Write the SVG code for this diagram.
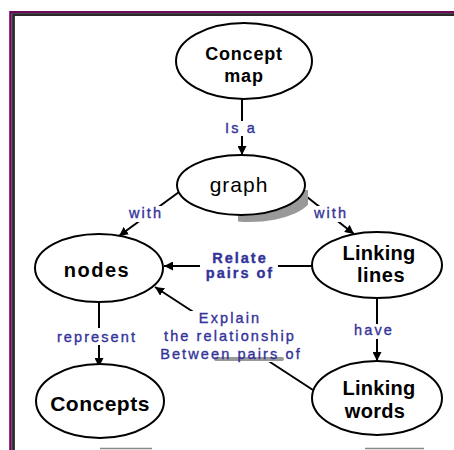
<svg xmlns="http://www.w3.org/2000/svg" width="454" height="450" viewBox="0 0 454 450">
<style>
.node{fill:#fff;stroke:#000;stroke-width:2}
.nt{font-family:"Liberation Sans",Arial,sans-serif;font-weight:bold;fill:#000;text-anchor:middle}
.conn{stroke:#000;stroke-width:2;fill:none;marker-end:url(#ah)}
.lb{fill:#fff}
.lt{font-family:"Liberation Sans",Arial,sans-serif;font-size:14.5px;fill:#333399;stroke:#333399;stroke-width:0.35px;text-anchor:middle;letter-spacing:2.1px}
</style>
<defs>
<marker id="ah" markerUnits="userSpaceOnUse" markerWidth="9" markerHeight="9" refX="9" refY="4.5" orient="auto">
<path d="M0,0 L9,4.5 L0,9 z" fill="#000"/>
</marker>
<clipPath id="shclip"><rect x="238" y="190" width="70" height="32.5"/></clipPath>
</defs>
<rect width="454" height="450" fill="#fff"/>
<g id="frame">
<path d="M10.5 450 V12.2 H454" fill="none" stroke="#6b0a5a" stroke-width="2.6"/>
<path d="M13.5 450 V14.7 H454" fill="none" stroke="#2a2a2a" stroke-width="2.8"/>
<line x1="100" y1="448.5" x2="152" y2="448.5" stroke="#888" stroke-width="1.5"/>
<line x1="365" y1="448.5" x2="424" y2="448.5" stroke="#888" stroke-width="1.5"/>
</g>
<g id="connectors">
<path class="conn" d="M242 99 V155"/>
<path class="conn" d="M179 192 L119 236"/>
<path class="conn" d="M302 193 L354 234"/>
<path class="conn" d="M312 266 H164"/>
<path class="conn" d="M377 298 V361"/>
<path class="conn" d="M99 302 V367"/>
<path class="conn" d="M313 390 L155 287"/>
</g>
<g id="labels">
<rect class="lb" x="198" y="121" width="80" height="15"/>
<text class="lt" x="241" y="133">Is a</text>
<rect class="lb" x="105" y="206" width="80" height="16"/>
<text class="lt" x="146" y="218">with</text>
<rect class="lb" x="292" y="206" width="80" height="16"/>
<text class="lt" x="331" y="218">with</text>
<rect class="lb" x="200" y="250" width="78" height="32"/>
<text class="lt" x="240" y="263" font-weight="bold" style="letter-spacing:2px">Relate</text>
<text class="lt" x="240" y="278" font-weight="bold" style="letter-spacing:2px">pairs of</text>
<rect class="lb" x="52" y="328" width="88" height="17"/>
<text class="lt" x="97" y="342">represent</text>
<rect class="lb" x="333" y="324" width="80" height="15"/>
<text class="lt" x="374" y="335">have</text>
<rect class="lb" x="157" y="311" width="148" height="51"/>
<rect x="214" y="357" width="70" height="4" rx="2" fill="#999"/>
<text class="lt" x="230" y="323">Explain</text>
<text class="lt" x="230" y="341">the relationship</text>
<text class="lt" x="231" y="359">Between pairs of</text>
</g>
<g id="node-concept-map">
<ellipse class="node" cx="244" cy="61" rx="68" ry="38"/>
<text class="nt" x="244" y="60" font-size="18" style="letter-spacing:0.8px">Concept</text>
<text class="nt" x="244" y="82" font-size="18" style="letter-spacing:0.8px">map</text>
</g>
<g id="node-graph">
<ellipse cx="250" cy="192" rx="64" ry="30" fill="#999" clip-path="url(#shclip)"/>
<ellipse class="node" cx="241" cy="185" rx="64" ry="30"/>
<text class="nt" x="239" y="192" font-size="21" style="font-weight:normal;letter-spacing:1px">graph</text>
</g>
<g id="node-nodes">
<ellipse class="node" cx="99" cy="268" rx="64" ry="34"/>
<text class="nt" x="97" y="277" font-size="20" style="letter-spacing:1.5px">nodes</text>
</g>
<g id="node-linking-lines">
<ellipse class="node" cx="377" cy="265" rx="65" ry="33"/>
<text class="nt" x="379" y="260" font-size="20" style="letter-spacing:0.3px">Linking</text>
<text class="nt" x="381" y="282" font-size="20" style="letter-spacing:0.5px">lines</text>
</g>
<g id="node-concepts">
<ellipse class="node" cx="100" cy="401" rx="64" ry="37"/>
<text class="nt" x="100" y="411" font-size="21" style="letter-spacing:0.5px">Concepts</text>
</g>
<g id="node-linking-words">
<ellipse class="node" cx="377" cy="398" rx="65" ry="37"/>
<text class="nt" x="379" y="395" font-size="20" style="letter-spacing:0.3px">Linking</text>
<text class="nt" x="375" y="418" font-size="20" style="letter-spacing:0.3px">words</text>
</g>
</svg>
